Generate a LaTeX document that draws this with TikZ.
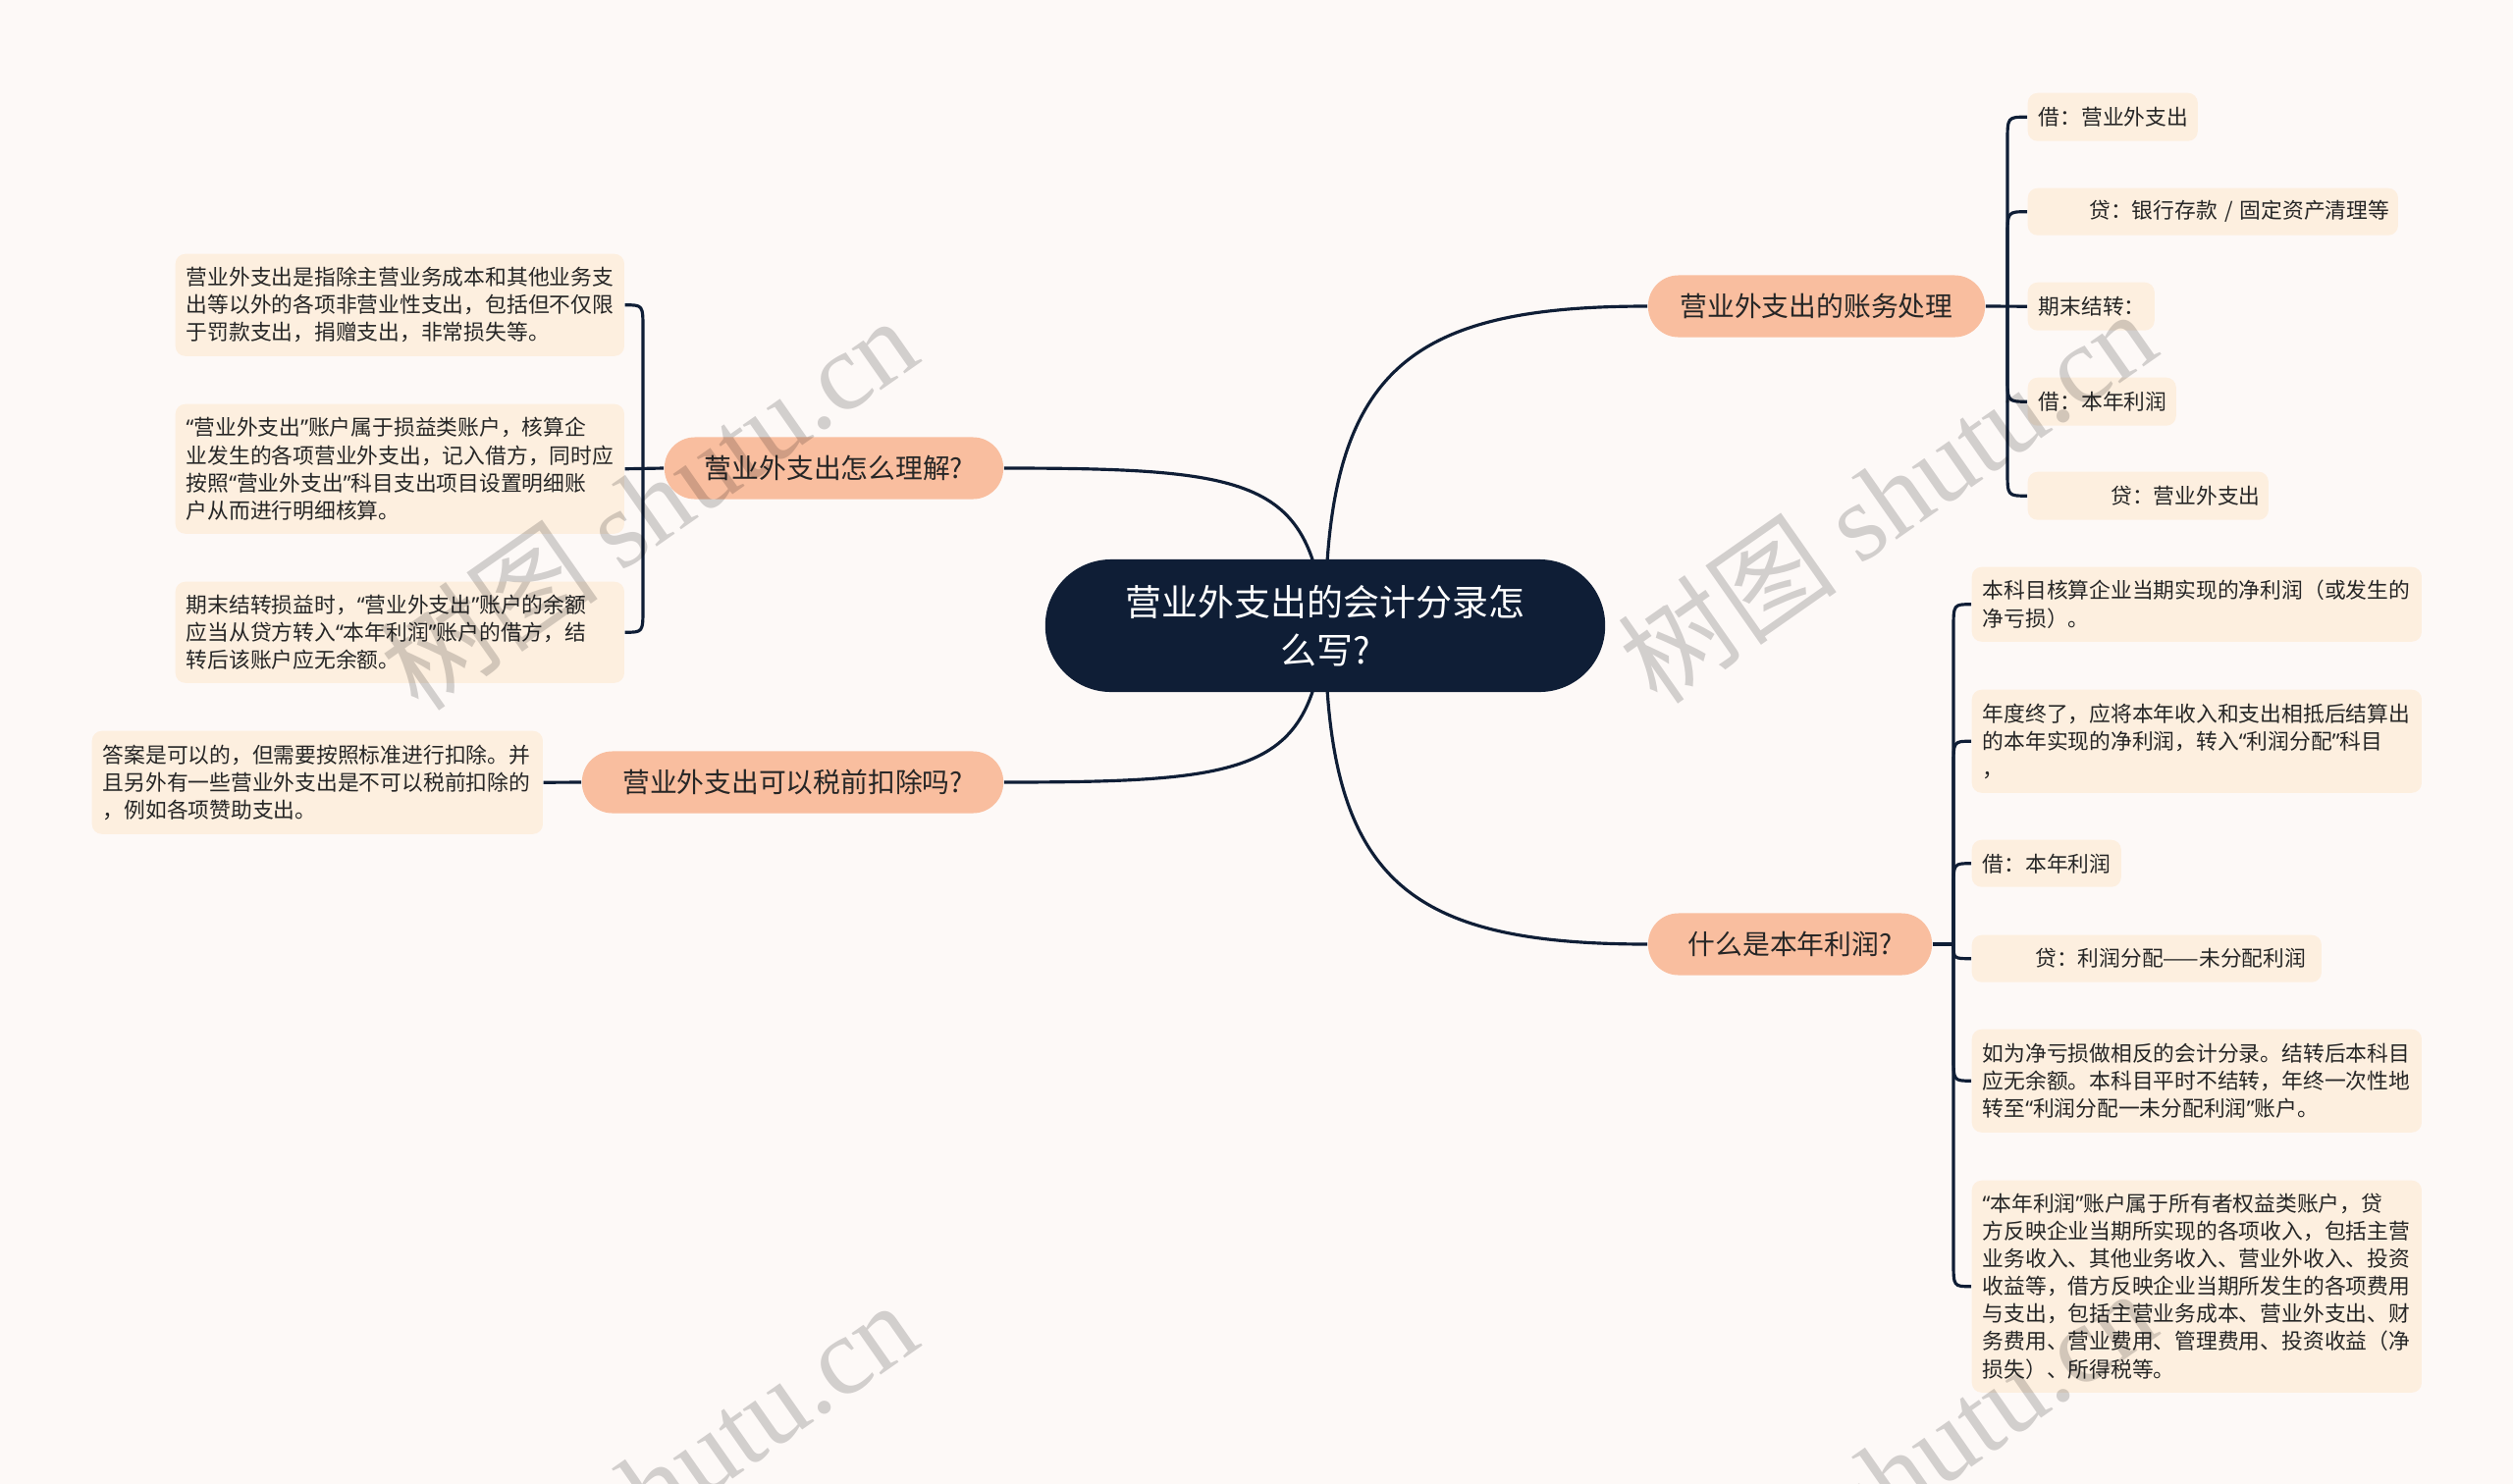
\documentclass[tikz,border=0pt]{standalone}
\usepackage{fontspec}
\setmainfont{Noto Sans CJK SC}
\newfontfamily\wmlatin{Liberation Serif}
\newfontfamily\qfont{Noto Sans}
\newcommand\myoq{{\qfont “}}
\newcommand\mycq{{\qfont ”}}
\usetikzlibrary{backgrounds}
\definecolor{bgc}{HTML}{FDF9F7}
\definecolor{navy}{HTML}{0F1E36}
\definecolor{peach}{HTML}{F9BE9F}
\definecolor{cream}{HTML}{FDEFDF}
\definecolor{ink}{HTML}{262626}
\begin{document}
\begin{tikzpicture}[x=0.01cm,y=-0.01cm,
  root/.style={fill=navy, text=white, rounded corners=0.67cm, minimum width=5.7cm, minimum height=1.35cm, inner sep=0pt, align=center, font=\fontsize{10.5}{13.9}\selectfont},
  branch/.style={fill=peach, text=ink, rounded corners=0.31cm, minimum height=0.63cm, inner sep=0pt, font=\fontsize{7.9}{9}\selectfont},
  leaf/.style={fill=cream, text=ink, rounded corners=0.1cm, inner xsep=0.11cm, inner ysep=0pt, align=left, anchor=north west, font=\fontsize{6.19}{7.97}\selectfont},
  link/.style={draw=navy, line width=0.9pt},
  wm/.style={rotate=35, text=black, text opacity=0.17, font=\fontsize{32}{32}\selectfont}]
\useasboundingbox (0,0) rectangle (2560,1512);
\clip (0,0) rectangle (2560,1512);

% root and branches
\node[root] (c) at (1350,637.5) {营业外支出的会计分录怎\\么写?};
\node[branch, minimum width=3.43cm] (b1) at (1850.5,312) {营业外支出的账务处理};
\node[branch, minimum width=2.89cm] (b2) at (1823.5,962) {什么是本年利润?};
\node[branch, minimum width=3.45cm] (b3) at (849.5,477) {营业外支出怎么理解?};
\node[branch, minimum width=4.29cm] (b4) at (807.5,797) {营业外支出可以税前扣除吗?};

% left leaves
\node[leaf, text width=4.35cm, minimum height=1.04cm] (l1) at (178,258)
 {营业外支出是指除主营业务成本和其他业务支\\出等以外的各项非营业性支出，包括但不仅限\\于罚款支出，捐赠支出，非常损失等。};
\node[leaf, text width=4.35cm, minimum height=1.32cm] (l2) at (178,411)
 {\myoq 营业外支出\mycq 账户属于损益类账户，核算企\\业发生的各项营业外支出，记入借方，同时应\\按照\myoq 营业外支出\mycq 科目支出项目设置明细账\\户从而进行明细核算。};
\node[leaf, text width=4.35cm, minimum height=1.03cm] (l3) at (178,592)
 {期末结转损益时，\myoq 营业外支出\mycq 账户的余额\\应当从贷方转入\myoq 本年利润\mycq 账户的借方，结\\转后该账户应无余额。};
\node[leaf, text width=4.37cm, minimum height=1.05cm] (l4) at (93,744)
 {答案是可以的，但需要按照标准进行扣除。并\\且另外有一些营业外支出是不可以税前扣除的\\，例如各项赞助支出。};

% right leaves (branch 1)
\node[leaf, text width=1.51cm, minimum height=0.49cm] (r1) at (2065,94) {借：营业外支出};
\node[leaf, text width=3.55cm, minimum height=0.48cm] (r2) at (2065,191) {\mbox{\hspace*{0.515cm}贷：银行存款~/~固定资产清理等}};
\node[leaf, text width=1.07cm, minimum height=0.49cm] (r3) at (2065,287) {期末结转：};
\node[leaf, text width=1.29cm, minimum height=0.49cm] (r4) at (2065,384) {借：本年利润};
\node[leaf, text width=2.23cm, minimum height=0.49cm] (r5) at (2065,480) {\mbox{\hspace*{0.735cm}贷：营业外支出}};

% right leaves (branch 2)
\node[leaf, text width=4.36cm, minimum height=0.76cm] (s1) at (2008,577)
 {本科目核算企业当期实现的净利润（或发生的\\净亏损）。};
\node[leaf, text width=4.36cm, minimum height=1.05cm] (s2) at (2008,702)
 {年度终了，应将本年收入和支出相抵后结算出\\的本年实现的净利润，转入\myoq 利润分配\mycq 科目\\，};
\node[leaf, text width=1.30cm, minimum height=0.48cm] (s3) at (2008,855) {借：本年利润};
\node[leaf, text width=3.34cm, minimum height=0.48cm] (s4) at (2008,952) {\mbox{\hspace*{0.535cm}贷：利润分配——未分配利润}};
\node[leaf, text width=4.36cm, minimum height=1.05cm] (s5) at (2008,1048)
 {如为净亏损做相反的会计分录。结转后本科目\\应无余额。本科目平时不结转，年终一次性地\\转至\myoq 利润分配一未分配利润\mycq 账户。};
\node[leaf, text width=4.36cm, minimum height=2.16cm] (s6) at (2008,1202)
 {\myoq 本年利润\mycq 账户属于所有者权益类账户，贷\\方反映企业当期所实现的各项收入，包括主营\\业务收入、其他业务收入、营业外收入、投资\\收益等，借方反映企业当期所发生的各项费用\\与支出，包括主营业务成本、营业外支出、财\\务费用、营业费用、管理费用、投资收益（净\\损失）、所得税等。};

\coordinate (j1) at (2045,312);
\coordinate (j2) at (1990,962);
\coordinate (j3) at (655,477);

\begin{pgfonlayer}{background}
\fill[bgc] (0,0) rectangle (2560,1512);
% root to branches
\draw[link] (c.center) .. controls (1350,380) and (1430,312) .. (b1.west);
\draw[link] (c.center) .. controls (1350,895) and (1430,962) .. (b2.west);
\draw[link] (b3.east) .. controls (1280,477) and (1335,490) .. (c.center);
\draw[link] (b4.east) .. controls (1280,797) and (1335,785) .. (c.center);
% left bracket
\draw[link] (b3.west) -- (l2.east);
\draw[link] (l1.east) .. controls (l1.east -| j3) .. ([yshift=-0.25cm]l1.east -| j3) -- (j3);
\draw[link] (l3.east) .. controls (l3.east -| j3) .. ([yshift=0.25cm]l3.east -| j3) -- (j3);
% tax leaf
\draw[link] (b4.west) -- (l4.east);
% branch 1 bracket
\draw[link] (b1.east) -- (r3.west);
\draw[link] (r1.west) .. controls (r1.west -| j1) .. ([yshift=-0.25cm]r1.west -| j1) -- (j1);
\draw[link] (r2.west) .. controls (r2.west -| j1) .. ([yshift=-0.25cm]r2.west -| j1) -- (j1);
\draw[link] (r4.west) .. controls (r4.west -| j1) .. ([yshift=0.25cm]r4.west -| j1) -- (j1);
\draw[link] (r5.west) .. controls (r5.west -| j1) .. ([yshift=0.25cm]r5.west -| j1) -- (j1);
% branch 2 bracket
\draw[link] (b2.east) -- (j2);
\draw[link] (s1.west) .. controls (s1.west -| j2) .. ([yshift=-0.25cm]s1.west -| j2) -- (j2);
\draw[link] (s2.west) .. controls (s2.west -| j2) .. ([yshift=-0.25cm]s2.west -| j2) -- (j2);
\draw[link] (s3.west) .. controls (s3.west -| j2) .. ([yshift=-0.25cm]s3.west -| j2) -- (j2);
\draw[link] (s4.west) .. controls (s4.west -| j2) .. (j2);
\draw[link] (s5.west) .. controls (s5.west -| j2) .. ([yshift=0.25cm]s5.west -| j2) -- (j2);
\draw[link] (s6.west) .. controls (s6.west -| j2) .. ([yshift=0.25cm]s6.west -| j2) -- (j2);
\end{pgfonlayer}

% watermarks
\node[wm] (w1) at (660,512) {树图 {\wmlatin shutu.cn}};
\node[wm] (w2) at (1922,505) {树图 {\wmlatin shutu.cn}};
\node[wm] (w3) at (660,1515) {树图 {\wmlatin shutu.cn}};
\node[wm] (w4) at (1922,1503) {树图 {\wmlatin shutu.cn}};
\end{tikzpicture}
\end{document}
